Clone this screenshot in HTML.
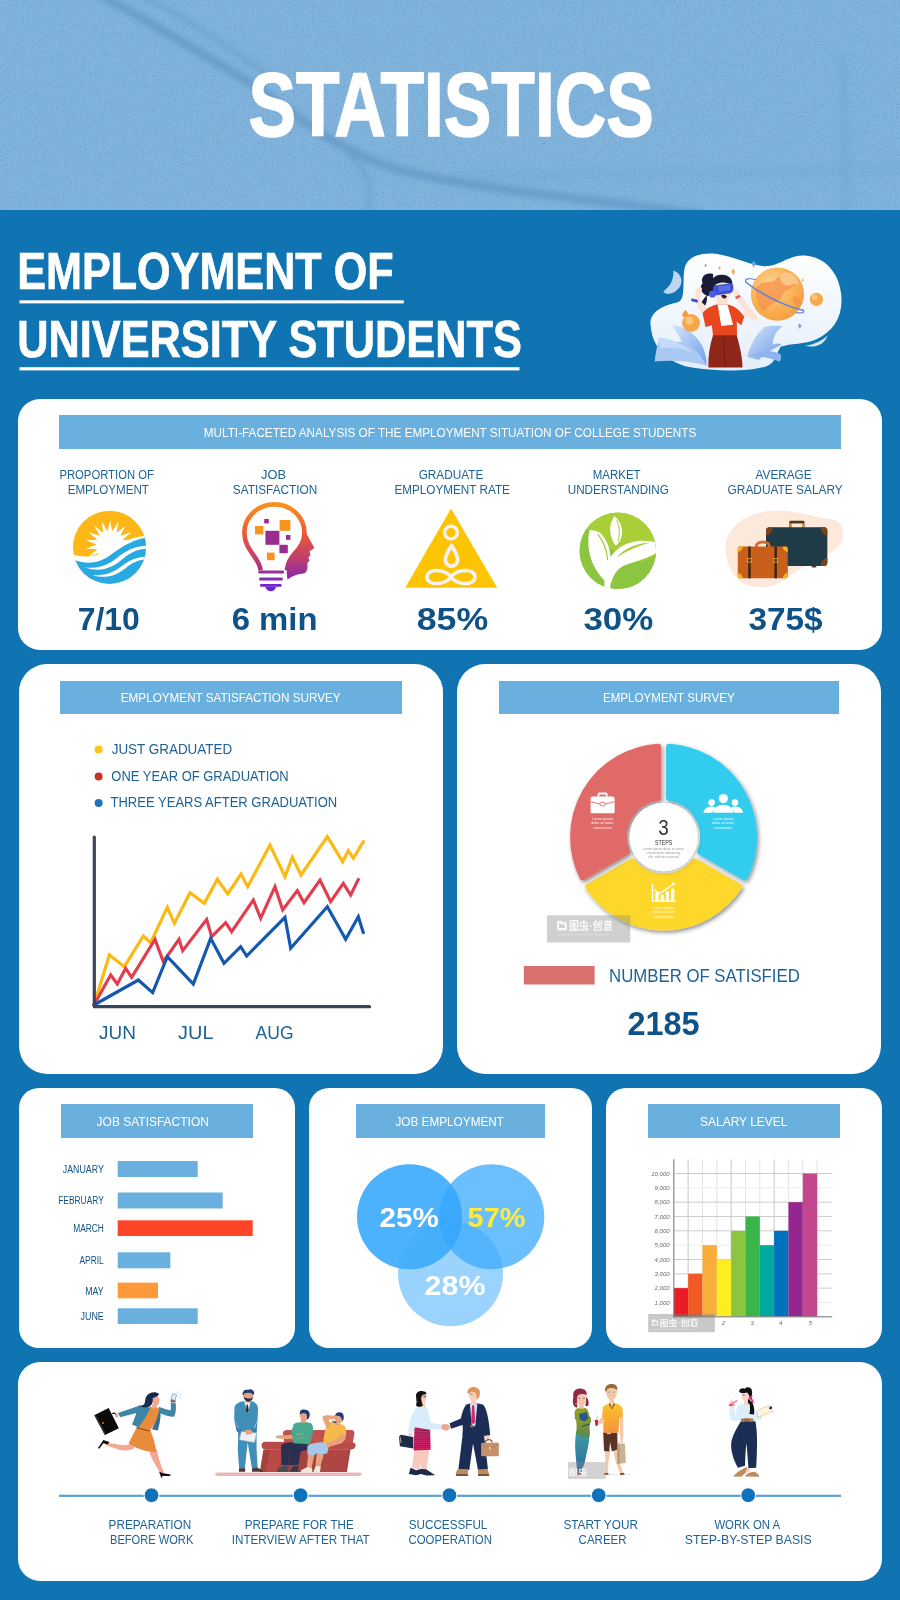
<!DOCTYPE html>
<html lang="en">
<head>
<meta charset="utf-8">
<title>Statistics - Employment of University Students</title>
<style>
html,body{margin:0;padding:0;}
body{width:900px;height:1600px;overflow:hidden;background:#1073b2;font-family:"Liberation Sans",sans-serif;}
#page{position:relative;width:900px;height:1600px;overflow:hidden;background:#1073b2;}
#hero{position:absolute;left:0;top:0;width:900px;height:210px;background:#83b6df;overflow:hidden;}
.card{position:absolute;background:#fff;}
.banner{position:absolute;background:#6ab0de;}
#c1{left:18px;top:399px;width:864px;height:251px;border-radius:22px;}
#c2{left:19px;top:664px;width:424px;height:410px;border-radius:28px;}
#c3{left:457px;top:664px;width:424px;height:410px;border-radius:28px;}
#c4{left:19px;top:1088px;width:276px;height:260px;border-radius:20px;}
#c5{left:309px;top:1088px;width:283px;height:260px;border-radius:20px;}
#c6{left:606px;top:1088px;width:276px;height:260px;border-radius:20px;}
#c7{left:18px;top:1362px;width:864px;height:219px;border-radius:22px;}
svg#art{position:absolute;left:0;top:0;width:900px;height:1600px;}
svg text{font-family:"Liberation Sans",sans-serif;}
.b{font-weight:bold;}
</style>
</head>
<body>
<div id="page">
<div id="hero"></div>
<div class="card" id="c1"><div class="banner" style="left:41px;top:16px;width:782px;height:34px"></div></div>
<div class="card" id="c2"><div class="banner" style="left:41px;top:17px;width:342px;height:33px"></div></div>
<div class="card" id="c3"><div class="banner" style="left:42px;top:17px;width:340px;height:33px"></div></div>
<div class="card" id="c4"><div class="banner" style="left:42px;top:16px;width:192px;height:34px"></div></div>
<div class="card" id="c5"><div class="banner" style="left:47px;top:16px;width:189px;height:34px"></div></div>
<div class="card" id="c6"><div class="banner" style="left:42px;top:16px;width:192px;height:34px"></div></div>
<div class="card" id="c7"></div>
<svg id="art" viewBox="0 0 900 1600" width="900" height="1600">
<g id="herotex">
<defs>
<filter id="noise" x="0" y="0" width="100%" height="100%"><feTurbulence type="fractalNoise" baseFrequency="0.9" numOctaves="2" seed="3" result="n"/><feColorMatrix type="matrix" values="0 0 0 0 0.16  0 0 0 0 0.34  0 0 0 0 0.55  1.2 1.2 1.2 0 -1.66"/></filter>
<filter id="blur5" x="-10%" y="-50%" width="120%" height="200%"><feGaussianBlur stdDeviation="2.6"/></filter>
<clipPath id="heroclip"><rect x="0" y="0" width="900" height="210"/></clipPath>
</defs>
<g clip-path="url(#heroclip)">
<g filter="url(#blur5)" fill="none" stroke="#4f86b8" stroke-linecap="round">
<path d="M98 -6 C150 22 205 55 250 83 C290 108 330 150 400 170 C470 188 560 196 700 214" stroke-width="9" opacity="0.46"/>
<path d="M140 -6 C180 14 230 48 270 76" stroke-width="7" opacity="0.22"/>
<path d="M352 158 C372 176 372 196 366 214" stroke-width="7" opacity="0.22"/>
<path d="M843 60 C846 110 844 160 846 214" stroke-width="9" opacity="0.13"/>
<path d="M450 178 C600 172 760 176 900 168" stroke-width="10" opacity="0.08"/>
</g>
<rect x="0" y="0" width="900" height="210" filter="url(#noise)" opacity="1"/>
</g>
</g>
<g id="texts">
<text x="248.4" y="136.4" font-size="91.5" fill="#ffffff" textLength="405.4" lengthAdjust="spacingAndGlyphs" class="b" stroke="#fff" stroke-width="1.6">STATISTICS</text>
<text x="17.2" y="289.4" font-size="52.5" fill="#ffffff" textLength="376.4" lengthAdjust="spacingAndGlyphs" class="b" stroke="#fff" stroke-width="0.7">EMPLOYMENT OF</text>
<text x="17.2" y="357.3" font-size="52.5" fill="#ffffff" textLength="504.7" lengthAdjust="spacingAndGlyphs" class="b" stroke="#fff" stroke-width="0.7">UNIVERSITY STUDENTS</text>
<rect x="19.5" y="300.3" width="384.3" height="3.1" fill="#fff"/>
<rect x="19.5" y="367.2" width="500" height="3.2" fill="#fff"/>
<text x="203.8" y="437.0" font-size="13" fill="#ffffff" textLength="492.5" lengthAdjust="spacingAndGlyphs">MULTI-FACETED ANALYSIS OF THE EMPLOYMENT SITUATION OF COLLEGE STUDENTS</text>
<text x="59.4" y="479.0" font-size="12" fill="#1d6296" textLength="94.5" lengthAdjust="spacingAndGlyphs">PROPORTION OF</text>
<text x="67.7" y="493.7" font-size="12" fill="#1d6296" textLength="81.2" lengthAdjust="spacingAndGlyphs">EMPLOYMENT</text>
<text x="261.0" y="479.0" font-size="12" fill="#1d6296" textLength="25.0" lengthAdjust="spacingAndGlyphs">JOB</text>
<text x="232.8" y="493.7" font-size="12" fill="#1d6296" textLength="84.5" lengthAdjust="spacingAndGlyphs">SATISFACTION</text>
<text x="418.7" y="479.0" font-size="12" fill="#1d6296" textLength="64.6" lengthAdjust="spacingAndGlyphs">GRADUATE</text>
<text x="394.4" y="493.7" font-size="12" fill="#1d6296" textLength="115.5" lengthAdjust="spacingAndGlyphs">EMPLOYMENT RATE</text>
<text x="592.7" y="479.0" font-size="12" fill="#1d6296" textLength="47.9" lengthAdjust="spacingAndGlyphs">MARKET</text>
<text x="567.7" y="493.7" font-size="12" fill="#1d6296" textLength="101.2" lengthAdjust="spacingAndGlyphs">UNDERSTANDING</text>
<text x="755.6" y="479.0" font-size="12" fill="#1d6296" textLength="56.0" lengthAdjust="spacingAndGlyphs">AVERAGE</text>
<text x="727.6" y="493.7" font-size="12" fill="#1d6296" textLength="115.2" lengthAdjust="spacingAndGlyphs">GRADUATE SALARY</text>
<text x="77.7" y="630.0" font-size="31.5" fill="#0e5287" textLength="62.2" lengthAdjust="spacingAndGlyphs" class="b">7/10</text>
<text x="231.7" y="630.0" font-size="31.5" fill="#0e5287" textLength="85.8" lengthAdjust="spacingAndGlyphs" class="b">6 min</text>
<text x="416.7" y="630.0" font-size="31.5" fill="#0e5287" textLength="71.5" lengthAdjust="spacingAndGlyphs" class="b">85%</text>
<text x="583.4" y="630.0" font-size="31.5" fill="#0e5287" textLength="69.9" lengthAdjust="spacingAndGlyphs" class="b">30%</text>
<text x="748.4" y="630.0" font-size="31.5" fill="#0e5287" textLength="74.2" lengthAdjust="spacingAndGlyphs" class="b">375$</text>
<text x="120.8" y="702.0" font-size="13" fill="#ffffff" textLength="219.8" lengthAdjust="spacingAndGlyphs">EMPLOYMENT SATISFACTION SURVEY</text>
<text x="111.7" y="754.0" font-size="14" fill="#1d6296" textLength="120.5" lengthAdjust="spacingAndGlyphs">JUST GRADUATED</text>
<text x="111.3" y="781.0" font-size="14" fill="#1d6296" textLength="177.4" lengthAdjust="spacingAndGlyphs">ONE YEAR OF GRADUATION</text>
<text x="110.5" y="807.4" font-size="14" fill="#1d6296" textLength="226.7" lengthAdjust="spacingAndGlyphs">THREE YEARS AFTER GRADUATION</text>
<text x="99.0" y="1038.5" font-size="19" fill="#1d6296" textLength="36.9" lengthAdjust="spacingAndGlyphs">JUN</text>
<text x="178.1" y="1038.5" font-size="19" fill="#1d6296" textLength="35.4" lengthAdjust="spacingAndGlyphs">JUL</text>
<text x="255.6" y="1038.5" font-size="19" fill="#1d6296" textLength="37.9" lengthAdjust="spacingAndGlyphs">AUG</text>
<text x="602.9" y="702.0" font-size="13" fill="#ffffff" textLength="131.8" lengthAdjust="spacingAndGlyphs">EMPLOYMENT SURVEY</text>
<text x="609.1" y="981.5" font-size="18" fill="#1d6296" textLength="190.7" lengthAdjust="spacingAndGlyphs">NUMBER OF SATISFIED</text>
<text x="627.4" y="1035.4" font-size="32.5" fill="#0e5287" textLength="72.2" lengthAdjust="spacingAndGlyphs" class="b">2185</text>
<text x="96.6" y="1126.0" font-size="13" fill="#ffffff" textLength="112.3" lengthAdjust="spacingAndGlyphs">JOB SATISFACTION</text>
<text x="62.8" y="1173.0" font-size="10" fill="#0e5287" textLength="41.0" lengthAdjust="spacingAndGlyphs">JANUARY</text>
<text x="58.2" y="1204.0" font-size="10" fill="#0e5287" textLength="45.6" lengthAdjust="spacingAndGlyphs">FEBRUARY</text>
<text x="73.2" y="1231.7" font-size="10" fill="#0e5287" textLength="30.6" lengthAdjust="spacingAndGlyphs">MARCH</text>
<text x="79.5" y="1264.0" font-size="10" fill="#0e5287" textLength="24.3" lengthAdjust="spacingAndGlyphs">APRIL</text>
<text x="85.2" y="1295.0" font-size="10" fill="#0e5287" textLength="18.6" lengthAdjust="spacingAndGlyphs">MAY</text>
<text x="80.5" y="1319.7" font-size="10" fill="#0e5287" textLength="23.3" lengthAdjust="spacingAndGlyphs">JUNE</text>
<text x="395.4" y="1126.0" font-size="13" fill="#ffffff" textLength="108.6" lengthAdjust="spacingAndGlyphs">JOB EMPLOYMENT</text>
<text x="700.1" y="1126.0" font-size="13" fill="#ffffff" textLength="87.3" lengthAdjust="spacingAndGlyphs">SALARY LEVEL</text>
<text x="108.6" y="1528.6" font-size="13" fill="#1d6296" textLength="82.7" lengthAdjust="spacingAndGlyphs">PREPARATION</text>
<text x="110.0" y="1543.7" font-size="13" fill="#1d6296" textLength="83.3" lengthAdjust="spacingAndGlyphs">BEFORE WORK</text>
<text x="244.8" y="1528.6" font-size="13" fill="#1d6296" textLength="108.9" lengthAdjust="spacingAndGlyphs">PREPARE FOR THE</text>
<text x="231.8" y="1543.7" font-size="13" fill="#1d6296" textLength="137.9" lengthAdjust="spacingAndGlyphs">INTERVIEW AFTER THAT</text>
<text x="408.7" y="1528.6" font-size="13" fill="#1d6296" textLength="78.7" lengthAdjust="spacingAndGlyphs">SUCCESSFUL</text>
<text x="408.4" y="1543.7" font-size="13" fill="#1d6296" textLength="83.6" lengthAdjust="spacingAndGlyphs">COOPERATION</text>
<text x="563.4" y="1528.6" font-size="13" fill="#1d6296" textLength="74.6" lengthAdjust="spacingAndGlyphs">START YOUR</text>
<text x="578.6" y="1543.7" font-size="13" fill="#1d6296" textLength="48.0" lengthAdjust="spacingAndGlyphs">CAREER</text>
<text x="714.4" y="1528.6" font-size="13" fill="#1d6296" textLength="65.7" lengthAdjust="spacingAndGlyphs">WORK ON A</text>
<text x="684.8" y="1543.7" font-size="13" fill="#1d6296" textLength="126.9" lengthAdjust="spacingAndGlyphs">STEP-BY-STEP BASIS</text>
</g>
<g id="timeline">
<rect x="59" y="1494.7" width="782" height="2.2" fill="#5b9fd6"/>
<g fill="#1072b8" stroke="#fff" stroke-width="1">
<circle cx="151.5" cy="1495.2" r="7.4"/><circle cx="300.6" cy="1495.2" r="7.4"/><circle cx="449.4" cy="1495.2" r="7.4"/><circle cx="598.7" cy="1495.2" r="7.4"/><circle cx="748.2" cy="1495.2" r="7.4"/>
</g>
</g>
<g id="linechart">
<g fill="none" stroke-width="3" stroke-linejoin="miter" stroke-linecap="round" transform="translate(80,820) scale(0.33333)">
<polyline stroke="#fdb913" stroke-width="9.5" points="42,555 88,405 133,440 190,348 212,368 262,262 283,310 330,218 373,250 412,178 443,222 483,162 503,200 570,75 615,170 637,112 663,165 742,50 788,125 805,92 820,115 850,65"/>
<polyline stroke="#e23d4f" stroke-width="9.5" points="42,555 92,465 112,492 137,445 155,472 225,358 250,425 297,358 308,392 380,298 395,350 437,308 455,335 520,240 542,295 585,200 608,270 652,212 672,248 720,180 752,245 790,190 812,225 835,178"/>
<polyline stroke="#1558b0" stroke-width="9.5" points="42,555 175,480 218,518 262,410 340,492 392,355 432,430 482,380 500,408 615,292 632,385 742,260 797,358 835,290 850,338"/>
</g>
<path d="M94.3 837 V1006.7 H369.5" fill="none" stroke="#3a4558" stroke-width="3.2" stroke-linecap="round" stroke-linejoin="round"/>
<circle cx="98.6" cy="749.5" r="4" fill="#fdc31b"/><circle cx="98.6" cy="776.5" r="4" fill="#c8321e"/><circle cx="98.6" cy="803" r="4" fill="#1a75bc"/>
</g>
<g id="bars">
<rect x="117.7" y="1161" width="80" height="16" fill="#6ab0de"/>
<rect x="117.7" y="1192.5" width="105" height="16" fill="#6ab0de"/>
<rect x="117.7" y="1220.3" width="135" height="15.7" fill="#ff4527"/>
<rect x="117.7" y="1252.3" width="52.6" height="16" fill="#6ab0de"/>
<rect x="117.7" y="1282.6" width="40.3" height="15.7" fill="#ff9a3c"/>
<rect x="117.7" y="1308.3" width="80" height="15.7" fill="#6ab0de"/>
</g>
<g id="venn">
<defs>
<clipPath id="cv1"><circle cx="409.5" cy="1216.7" r="52.5"/></clipPath>
<clipPath id="cv2"><circle cx="491.8" cy="1216.7" r="52.5"/></clipPath>
</defs>
<circle cx="450.5" cy="1273.7" r="52.5" fill="#9ad4fe"/>
<circle cx="491.8" cy="1216.7" r="52.5" fill="#6bbffd"/>
<circle cx="409.5" cy="1216.7" r="52.5" fill="#4db2fd"/>
<circle cx="450.5" cy="1273.7" r="52.5" fill="#52b5fd" clip-path="url(#cv2)"/>
<circle cx="450.5" cy="1273.7" r="52.5" fill="#45affc" clip-path="url(#cv1)"/>
<circle cx="491.8" cy="1216.7" r="52.5" fill="#3baafc" clip-path="url(#cv1)"/>
<g clip-path="url(#cv1)"><circle cx="450.5" cy="1273.7" r="52.5" fill="#38a9fc" clip-path="url(#cv2)"/></g>
<text class="b" x="379.6" y="1226.7" font-size="28" fill="#fff" textLength="59.1" lengthAdjust="spacingAndGlyphs">25%</text>
<text class="b" x="467.6" y="1226.7" font-size="28" fill="#ffeb3b" textLength="57.8" lengthAdjust="spacingAndGlyphs">57%</text>
<text class="b" x="424.6" y="1295" font-size="28" fill="#fff" textLength="60.8" lengthAdjust="spacingAndGlyphs">28%</text>
</g>
<g id="satisfied"><rect x="523.8" y="966" width="70.8" height="18.5" fill="#d97070"/></g>
<g id="salary">
<rect x="687.63" y="1159.3" width="1" height="157.5" fill="#c6c6c6"/>
<rect x="701.96" y="1159.3" width="1" height="157.5" fill="#e4e4e4"/>
<rect x="716.29" y="1159.3" width="1" height="157.5" fill="#e4e4e4"/>
<rect x="730.62" y="1159.3" width="1" height="157.5" fill="#c6c6c6"/>
<rect x="744.95" y="1159.3" width="1" height="157.5" fill="#e4e4e4"/>
<rect x="759.28" y="1159.3" width="1" height="157.5" fill="#e4e4e4"/>
<rect x="773.61" y="1159.3" width="1" height="157.5" fill="#c6c6c6"/>
<rect x="787.94" y="1159.3" width="1" height="157.5" fill="#e4e4e4"/>
<rect x="802.27" y="1159.3" width="1" height="157.5" fill="#e4e4e4"/>
<rect x="816.60" y="1159.3" width="1" height="157.5" fill="#e4e4e4"/>
<rect x="673.8" y="1301.97" width="158.4" height="1" fill="#ececec"/>
<rect x="673.8" y="1287.64" width="158.4" height="1" fill="#cdcdcd"/>
<rect x="673.8" y="1273.31" width="158.4" height="1" fill="#cdcdcd"/>
<rect x="673.8" y="1258.98" width="158.4" height="1" fill="#cdcdcd"/>
<rect x="673.8" y="1244.65" width="158.4" height="1" fill="#ececec"/>
<rect x="673.8" y="1230.32" width="158.4" height="1" fill="#cdcdcd"/>
<rect x="673.8" y="1215.99" width="158.4" height="1" fill="#cdcdcd"/>
<rect x="673.8" y="1201.66" width="158.4" height="1" fill="#cdcdcd"/>
<rect x="673.8" y="1187.33" width="158.4" height="1" fill="#ececec"/>
<rect x="673.8" y="1173.00" width="158.4" height="1" fill="#cdcdcd"/>
<rect x="673.80" y="1288.14" width="14.38" height="28.66" fill="#ec1c24"/>
<rect x="688.13" y="1273.81" width="14.38" height="42.99" fill="#f15a24"/>
<rect x="702.46" y="1245.15" width="14.38" height="71.65" fill="#f9ae3b"/>
<rect x="716.79" y="1259.48" width="14.38" height="57.32" fill="#fcee21"/>
<rect x="731.12" y="1230.82" width="14.38" height="85.98" fill="#8cc63f"/>
<rect x="745.45" y="1216.49" width="14.38" height="100.31" fill="#39b54a"/>
<rect x="759.78" y="1245.15" width="14.38" height="71.65" fill="#00a99d"/>
<rect x="774.11" y="1230.82" width="14.38" height="85.98" fill="#0071bc"/>
<rect x="788.44" y="1202.16" width="14.38" height="114.64" fill="#93278f"/>
<rect x="802.77" y="1173.50" width="14.38" height="143.30" fill="#c2478f"/>
<rect x="673.2" y="1159.3" width="1.2" height="158.1" fill="#8a8a8a"/>
<rect x="673.2" y="1316.2" width="159.0" height="1.2" fill="#8a8a8a"/>
<text x="669.6" y="1304.6" font-size="6" font-style="italic" fill="#6a6a6a" text-anchor="end">1,000</text>
<text x="669.6" y="1290.2" font-size="6" font-style="italic" fill="#6a6a6a" text-anchor="end">2,000</text>
<text x="669.6" y="1275.9" font-size="6" font-style="italic" fill="#6a6a6a" text-anchor="end">3,000</text>
<text x="669.6" y="1261.6" font-size="6" font-style="italic" fill="#6a6a6a" text-anchor="end">4,000</text>
<text x="669.6" y="1247.2" font-size="6" font-style="italic" fill="#6a6a6a" text-anchor="end">5,000</text>
<text x="669.6" y="1232.9" font-size="6" font-style="italic" fill="#6a6a6a" text-anchor="end">6,000</text>
<text x="669.6" y="1218.6" font-size="6" font-style="italic" fill="#6a6a6a" text-anchor="end">7,000</text>
<text x="669.6" y="1204.3" font-size="6" font-style="italic" fill="#6a6a6a" text-anchor="end">8,000</text>
<text x="669.6" y="1189.9" font-size="6" font-style="italic" fill="#6a6a6a" text-anchor="end">9,000</text>
<text x="669.6" y="1175.6" font-size="6" font-style="italic" fill="#6a6a6a" text-anchor="end">10,000</text>
<text x="694.5" y="1325.3" font-size="6" font-style="italic" fill="#6a6a6a" text-anchor="middle">1</text>
<text x="723.3" y="1325.3" font-size="6" font-style="italic" fill="#6a6a6a" text-anchor="middle">2</text>
<text x="752.2" y="1325.3" font-size="6" font-style="italic" fill="#6a6a6a" text-anchor="middle">3</text>
<text x="780.7" y="1325.3" font-size="6" font-style="italic" fill="#6a6a6a" text-anchor="middle">4</text>
<text x="810.4" y="1325.3" font-size="6" font-style="italic" fill="#6a6a6a" text-anchor="middle">5</text>
<rect x="648.2" y="1314" width="66.7" height="18.2" fill="#7d7d7d" fill-opacity="0.42"/>
<path d="M651.8 1319.6h3.2l1 1h2.2v5.2h-6.4z M653.2 1321.2v3.2h3.6v-2.4h-2z" fill="#fff" fill-opacity="0.8" fill-rule="evenodd"/>
<text x="659.5" y="1326.3" font-size="8.2" font-weight="bold" fill="#fff" fill-opacity="0.85" style="font-family:'Liberation Sans','Noto Sans CJK SC',sans-serif" textLength="39" lengthAdjust="spacingAndGlyphs">图虫·创意</text>
<rect x="651.8" y="1329.3" width="42" height="0.7" fill="#fff" fill-opacity="0.35"/>
</g>
<g id="pie">
<defs><filter id="psh" x="-20%" y="-20%" width="140%" height="140%"><feDropShadow dx="1.6" dy="2.0" stdDeviation="2.0" flood-color="#000" flood-opacity="0.45"/></filter><filter id="psh2" x="-30%" y="-30%" width="160%" height="160%"><feDropShadow dx="0.5" dy="1" stdDeviation="2" flood-color="#000" flood-opacity="0.35"/></filter></defs>
<path d="M588.12 886.93 A90.50 90.50 0 0 0 739.08 886.93 L694.72 861.32 A39.50 39.50 0 0 1 632.48 861.32 Z" fill="#fdd72c" stroke="#fdd72c" stroke-width="6.0" stroke-linejoin="round" filter="url(#psh)"/>
<path d="M744.58 877.40 A90.50 90.50 0 0 0 669.10 746.67 L669.10 797.88 A39.50 39.50 0 0 1 700.22 851.79 Z" fill="#33ccee" stroke="#33ccee" stroke-width="6.0" stroke-linejoin="round" filter="url(#psh)"/>
<path d="M658.10 746.67 A90.50 90.50 0 0 0 582.62 877.40 L626.98 851.79 A39.50 39.50 0 0 1 658.10 797.88 Z" fill="#df6a68" stroke="#df6a68" stroke-width="6.0" stroke-linejoin="round" filter="url(#psh)"/>
<circle cx="663.6" cy="837.0" r="34.2" fill="#fff" filter="url(#psh2)"/>
<text x="663.6" y="835.2" font-size="21.5" fill="#333" text-anchor="middle" style="font-weight:normal" textLength="10.5" lengthAdjust="spacingAndGlyphs">3</text>
<text x="655.0" y="845.3" font-size="7.6" fill="#333" textLength="17.4" lengthAdjust="spacingAndGlyphs">STEPS</text>
<text x="663.6" y="849.7" font-size="3.4" fill="#9a9a9a" text-anchor="middle">Lorem ipsum dolor sit amet,</text>
<text x="663.6" y="853.8" font-size="3.4" fill="#9a9a9a" text-anchor="middle">consectetur adipiscing</text>
<text x="663.6" y="857.9" font-size="3.4" fill="#9a9a9a" text-anchor="middle">elit, sed do eiusmod</text>
<text x="602.6" y="820.0" font-size="3.6" fill="#fff" fill-opacity="0.92" text-anchor="middle">Lorem ipsum</text>
<text x="602.6" y="824.3" font-size="3.6" fill="#fff" fill-opacity="0.92" text-anchor="middle">dolor sit amet,</text>
<text x="602.6" y="828.6" font-size="3.6" fill="#fff" fill-opacity="0.92" text-anchor="middle">consectetur</text>
<text x="723.2" y="820.0" font-size="3.6" fill="#fff" fill-opacity="0.92" text-anchor="middle">Lorem ipsum</text>
<text x="723.2" y="824.3" font-size="3.6" fill="#fff" fill-opacity="0.92" text-anchor="middle">dolor sit amet,</text>
<text x="723.2" y="828.6" font-size="3.6" fill="#fff" fill-opacity="0.92" text-anchor="middle">consectetur</text>
<text x="663.8" y="909.0" font-size="3.6" fill="#fff" fill-opacity="0.92" text-anchor="middle">Lorem ipsum</text>
<text x="663.8" y="913.3" font-size="3.6" fill="#fff" fill-opacity="0.92" text-anchor="middle">dolor sit amet,</text>
<text x="663.8" y="917.6" font-size="3.6" fill="#fff" fill-opacity="0.92" text-anchor="middle">consectetur</text>
<g fill="#fff"><path d="M590.6 798.6h24v13.4a1.2 1.2 0 0 1-1.2 1.2h-21.6a1.2 1.2 0 0 1-1.2-1.2z M590.6 798.6a2 2 0 0 1 2-2h20a2 2 0 0 1 2 2v3.2l-12 3-12-3z"/><path d="M597.6 796.8v-2.6a1.6 1.6 0 0 1 1.6-1.6h6.8a1.6 1.6 0 0 1 1.6 1.6v2.6h-1.8v-2.2h-6.4v2.2z"/></g><path d="M590.6 801.6l12 3.2 12-3.2" fill="none" stroke="#df6a68" stroke-width="0.9"/><rect x="600.2" y="802.6" width="4.8" height="3.2" rx="0.6" fill="#fff" stroke="#df6a68" stroke-width="0.8"/>
<g fill="#fff"><circle cx="723.3" cy="798.6" r="4.6"/><circle cx="711.6" cy="802.6" r="3.3"/><circle cx="735" cy="802.6" r="3.3"/><path d="M703.4 812.8c0.8-4.2 4-6.2 8.2-6.2c2 0 3.6 0.6 4.8 1.6c-2.2 1.2-3.6 3-4.2 4.6z"/><path d="M743.2 812.8c-0.8-4.2-4-6.2-8.2-6.2c-2 0-3.6 0.6-4.8 1.6c2.2 1.2 3.6 3 4.2 4.600z"/><path d="M713.2 812.8c1-5.2 4.800-8 10.100-8s9.100 2.800 10.100 8z"/></g>
<g fill="#fff"><rect x="651.8" y="883.8" width="1.4" height="18"/><rect x="651.800" y="900.400" width="24" height="1.400"/><rect x="655.400" y="892.200" width="3.200" height="8.200"/><rect x="660.600" y="894.600" width="3.200" height="5.800"/><rect x="665.800" y="891.600" width="3.200" height="8.800"/><rect x="671" y="888.600" width="3.200" height="11.800"/><path d="M654.200 889.200l5.200 3.400l5-3l8-5.400l-0.800-1.200l3.800-0.400l-1.400 3.600l-0.800-1.100l-8.400 5.800l-5.300 3l-5.800-3.700z"/></g>
<rect x="547" y="915.3" width="83.300" height="27.200" fill="#8a8a8a" fill-opacity="0.40"/>
<path d="M557 920.800h5l1.500 1.500h3.300v8h-9.800z M559 923.200v4.800h5.700v-3.600h-3z" fill="#fff" fill-opacity="0.85" fill-rule="evenodd"/>
<text x="569" y="929.800" font-size="11" font-weight="bold" fill="#fff" fill-opacity="0.88" style="font-family:'Liberation Sans','Noto Sans CJK SC',sans-serif" textLength="43.800" lengthAdjust="spacingAndGlyphs">图虫·创意</text>
<rect x="557" y="934.300" width="52" height="0.800" fill="#fff" fill-opacity="0.35"/>
</g>
<g id="ic1" transform="translate(40,490) scale(0.2)">
<defs><clipPath id="ic1c"><circle cx="347.5" cy="286.5" r="183"/></clipPath></defs>
<g clip-path="url(#ic1c)">
<rect x="150" y="90" width="400" height="400" fill="#fdb716"/>
<polygon points="350.0,150.0 361.5,207.0 391.7,157.4 383.0,214.8 428.4,178.5 400.6,229.6 455.7,211.0 412.0,249.4 470.1,250.8 416.0,272.0 470.1,293.2 412.0,294.6 455.7,333.0 400.6,314.4 428.4,365.5 383.0,329.2 391.7,386.6 361.5,337.0 350.0,394.0 338.5,337.0 308.3,386.6 317.0,329.2 271.6,365.5 299.4,314.4 244.3,333.0 288.0,294.6 229.9,293.2 284.0,272.0 229.9,250.8 288.0,249.4 244.3,211.0 299.4,229.6 271.6,178.5 317.0,214.8 308.3,157.4 338.5,207.0" fill="#fff"/>
<circle cx="350" cy="272" r="70" fill="#fff"/>
<path d="M150 318 C215 338 268 338 312 312 C372 276 432 238 545 226 V500 H150Z" fill="#fff"/>
<path d="M150 340 C225 378 292 366 342 333 C402 290 452 250 545 236 V500 H150Z" fill="#29a9e1"/>
<path d="M222 386 C300 398 350 370 400 328 C450 290 490 280 532 280 L532 294 C490 296 452 310 410 348 C358 392 300 414 222 386Z" fill="#fff"/>
<path d="M262 426 C330 430 372 410 418 374 C460 344 490 336 526 334 L524 348 C490 352 464 362 426 392 C378 428 330 446 262 426Z" fill="#fff"/>
</g></g>
<g id="ic2" transform="translate(200,490) scale(0.2)">
<defs><linearGradient id="ic2g" gradientUnits="userSpaceOnUse" x1="0" y1="60" x2="0" y2="500"><stop offset="0" stop-color="#f7941d"/><stop offset="0.35" stop-color="#ee5a36"/><stop offset="0.62" stop-color="#c2406a"/><stop offset="0.85" stop-color="#8e2aa6"/><stop offset="1" stop-color="#6a1fe0"/></linearGradient></defs>
<path d="M303 402 C300 340 222 300 222 215 C222 135 288 72 372 72 C456 72 522 135 522 215 C522 262 498 292 470 322 C448 346 438 372 434 402" fill="none" stroke="url(#ic2g)" stroke-width="23" stroke-linecap="butt"/>
<path d="M520 196 L572 290 L548 306 L552 326 L542 338 L548 352 L536 366 C540 392 536 410 520 418 C490 420 462 428 438 448 C428 400 436 360 470 326 C500 296 522 262 520 196Z" fill="url(#ic2g)"/>
<g fill="url(#ic2g)"><rect x="292" y="402" width="128" height="16" rx="6"/><rect x="296" y="438" width="118" height="15" rx="6"/><rect x="300" y="470" width="108" height="14" rx="6"/><path d="M326 484 H382 C376 500 364 506 354 506 C344 506 332 500 326 484Z"/></g>
<g fill="#f7941d"><rect x="275" y="180" width="42" height="42"/><rect x="398" y="150" width="54" height="54"/><rect x="335" y="313" width="38" height="38"/></g>
<g fill="#9b2c8f"><rect x="327" y="204" width="70" height="70"/><rect x="397" y="274" width="42" height="42"/><rect x="321" y="145" width="23" height="22"/><rect x="430" y="225" width="22" height="24"/></g>
</g>
<g id="ic3">
<polygon points="451,508.6 497.2,587.8 405.2,587.8" fill="#fcc403"/>
<circle cx="451" cy="532.6" r="6.4" fill="none" stroke="#f6f1f1" stroke-width="3.4"/>
<path d="M451.5 545.6 C456 552.5 457.6 556.6 457.6 560 A6.1 6.1 0 0 1 445.4 560 C445.400 556.600 447 552.500 451.500 545.600Z" fill="none" stroke="#f6f1f1" stroke-width="3.8" stroke-linejoin="round"/>
<path d="M451 577 C445 568.500 427 568 427 577 C427 586 445 585.500 451 577 C457 568.500 475 568 475 577 C475 586 457 585.500 451 577Z" fill="none" stroke="#f6f1f1" stroke-width="3.6"/>
</g>
<g id="ic4" transform="translate(540,490) scale(0.2)">
<defs><clipPath id="ic4c"><circle cx="388.5" cy="304" r="191.500"/></clipPath></defs>
<g clip-path="url(#ic4c)">
<rect x="190" y="105" width="400" height="400" fill="#8cc540"/>
<path d="M236 190 C300 100 470 70 570 190 L610 260 L610 360 C540 380 470 350 400 320 C340 290 280 250 236 190Z" fill="#a8cf38"/>
<path d="M248 200 C236 250 240 320 270 380 C290 420 312 440 322 452 L322 486 L352 492 C352 440 360 400 378 372 L352 330 C350 290 330 240 300 214 C284 204 266 200 248 200Z" fill="#fff"/>
<path d="M290 222 C318 258 334 300 338 348" fill="none" stroke="#9fcb3a" stroke-width="6" stroke-linecap="round"/>
<path d="M372 130 C344 170 342 226 376 276 L386 274 C422 232 420 170 372 130Z" fill="#fff"/>
<path d="M384 152 C400 190 400 226 390 256" fill="none" stroke="#a8cf38" stroke-width="5" stroke-linecap="round"/>
<path d="M352 338 C372 300 420 266 480 256 C520 250 556 256 580 262 L582 314 C540 342 480 356 430 374 C390 390 366 420 356 470 L340 440 C338 400 342 366 352 338Z" fill="#fff"/>
<path d="M384 338 C410 300 480 264 552 264 C500 276 440 300 384 338Z" fill="#a8cf38"/>
<path d="M356 482 C356 440 380 408 424 390 C484 368 544 352 584 318 C600 430 480 530 352 498Z" fill="#8cc540"/>
</g></g>
<g id="ic5" transform="translate(690,455) scale(0.22222)">
<path d="M160 430 C150 340 240 255 380 250 C470 248 560 280 640 290 C700 300 705 380 660 420 C600 470 500 500 440 550 C390 590 330 605 270 590 C200 570 165 500 160 430Z" fill="#fde8dc"/>
<rect x="447" y="296" width="68" height="34" rx="6" fill="#5a3413"/><rect x="456" y="308" width="50" height="24" fill="#fde8dc"/><rect x="449" y="308" width="8" height="20" fill="#e0992f"/><rect x="505" y="308" width="8" height="20" fill="#e0992f"/>
<rect x="342" y="325" width="276" height="175" rx="16" fill="#1f3b47"/>
<path d="M342 341 a16 16 0 0 1 16 -16 h14 c0 20 -12 34 -30 36z M618 341 a16 16 0 0 0 -16 -16 h-14 c0 20 12 34 30 36z M618 484 a16 16 0 0 1 -16 16 h-14 c0 -20 12 -34 30 -36z" fill="#7a4419"/>
<rect x="548" y="498" width="20" height="8" fill="#5a3413"/>
<path d="M292 414 C292 392 310 386 328 386 C346 386 364 392 364 414 L352 414 C352 402 342 398 328 398 C314 398 304 402 304 414Z" fill="#d4692a"/>
<rect x="215" y="412" width="225" height="143" rx="10" fill="#c8601c"/>
<rect x="262" y="412" width="11" height="143" fill="#3a2416"/><rect x="380" y="412" width="11" height="143" fill="#3a2416"/>
<rect x="259" y="466" width="17" height="16" fill="none" stroke="#e9a52a" stroke-width="4"/><rect x="377" y="466" width="17" height="16" fill="none" stroke="#e9a52a" stroke-width="4"/>
<path d="M215 422 a10 10 0 0 1 10 -10 h12 c0 14 -8 22 -22 24z M440 422 a10 10 0 0 0 -10 -10 h-12 c0 14 8 22 22 24z M215 545 a10 10 0 0 0 10 10 h12 c0 -14 -8 -22 -22 -24z M440 545 a10 10 0 0 1 -10 10 h-12 c0 -14 8 -22 22 -24z" fill="#f5b21b"/>
</g>
<g id="heroart" transform="translate(620,230) scale(0.28889)">
<defs>
<linearGradient id="hbl" x1="0" y1="0" x2="0" y2="1"><stop offset="0" stop-color="#ffffff"/><stop offset="1" stop-color="#e3eefb"/></linearGradient>
<radialGradient id="hpl" cx="0.4" cy="0.35" r="0.75"><stop offset="0" stop-color="#fdd79a"/><stop offset="0.55" stop-color="#f9b255"/><stop offset="1" stop-color="#f39a3c"/></radialGradient>
<linearGradient id="hlf" x1="0" y1="0" x2="1" y2="1"><stop offset="0" stop-color="#d4e4fb"/><stop offset="1" stop-color="#6f9fe8"/></linearGradient>
</defs>
<!-- side leaves behind -->
<path d="M185 140 C215 150 222 185 200 205 C185 222 160 226 150 215 C160 200 186 190 185 140Z" fill="#bcd7f6"/>
<path d="M640 400 C670 398 705 380 718 365 C712 392 676 412 640 400Z" fill="#d7e7fb"/>
<!-- blob -->
<path d="M106 330 C100 290 140 262 200 250 C230 240 214 180 224 130 C236 84 300 74 350 86 C420 100 470 132 520 124 C560 116 590 86 640 88 C710 92 760 150 766 226 C772 300 740 350 680 378 C640 396 590 392 556 404 C540 430 540 462 500 474 C440 490 340 490 260 478 C180 468 112 420 106 330Z" fill="url(#hbl)"/>
<!-- plants left -->
<path d="M120 455 C124 420 130 392 138 376 C160 384 200 392 230 384 C262 400 290 430 300 470 C240 452 180 450 120 455Z" fill="#a9c9f3"/>
<path d="M180 330 C220 330 262 360 284 400 C296 424 300 448 300 470 C280 430 250 400 212 384 C204 366 192 346 180 330Z" fill="url(#hlf)"/>
<path d="M132 372 C170 374 220 392 258 428 C226 412 180 404 140 410Z" fill="#c4dafa"/>
<!-- plants right -->
<path d="M440 440 C450 400 470 360 500 336 C520 330 548 330 562 334 C540 350 530 372 528 396 C540 392 552 392 560 396 C530 410 500 430 480 450Z" fill="url(#hlf)"/>
<path d="M448 436 C470 420 520 410 556 430 C560 440 556 452 552 456 C520 440 480 438 448 436Z" fill="#8fb4ee"/>
<!-- planet -->
<circle cx="545" cy="222" r="92" fill="url(#hpl)"/>
<path d="M470 200 C500 170 520 190 540 170 C560 150 600 150 610 180 C600 210 570 200 560 230 C550 256 520 250 500 280 C480 270 470 240 470 200Z" fill="#f6924a" opacity="0.75"/>
<path d="M560 150 C590 140 612 160 620 190 C600 180 590 200 570 190 C556 184 548 164 560 150Z" fill="#fbc98f" opacity="0.9"/>
<path d="M600 230 C624 224 632 250 620 270 C604 262 596 246 600 230Z" fill="#f6924a" opacity="0.8"/>
<path d="M436 180 C470 210 560 262 634 278" fill="none" stroke="#5c7fe6" stroke-width="5" stroke-linecap="round"/>
<path d="M436 180 C428 168 450 166 470 172" fill="none" stroke="#5c7fe6" stroke-width="4" stroke-linecap="round"/>
<path d="M634 278 C642 284 630 290 612 286" fill="none" stroke="#5c7fe6" stroke-width="4" stroke-linecap="round"/>
<circle cx="680" cy="240" r="23" fill="#f7a649"/><circle cx="674" cy="233" r="10" fill="#fbc57d"/>
<!-- left small planet -->
<path d="M216 300 C214 288 222 282 228 276 C232 286 240 290 238 302Z" fill="#f59a3e"/>
<circle cx="246" cy="322" r="31" fill="#f7a649"/><circle cx="240" cy="314" r="14" fill="#fbc57d"/>
<!-- sparkles -->
<path d="M392 132 l6 12 l-6 12 l-6 -12z M345 124 l4 7 l-4 7 l-4 -7z M632 168 l4 6 l-4 6 l-4 -6z" fill="#f6a545"/>
<path d="M463 106 l7 12 l-7 12 l-7 -12z M622 322 l6 10 l-6 10 l-6 -10z M296 116 l4 7 l-4 7 l-4 -7z" fill="#7ea0ea"/>
<!-- girl -->
<!-- ponytail -->
<path d="M322 152 C296 146 278 162 286 184 C270 200 286 222 300 226 C282 246 270 268 280 278 C296 268 304 244 300 230 C318 226 326 200 322 152Z" fill="#1b1b38"/>
<!-- arms -->
<path d="M286 292 C268 270 256 240 262 214 C266 196 282 192 284 204 L276 236 C282 252 300 268 318 280Z" fill="#fbe3d6"/>
<path d="M412 290 C436 300 462 312 478 318 C484 310 470 290 450 270 C436 250 420 230 410 216 C404 200 392 196 388 210 C396 230 420 262 432 286Z" fill="#fbe3d6"/>
<!-- neck + face -->
<path d="M336 240 L372 240 L376 272 L330 272Z" fill="#fbe3d6"/>
<path d="M324 196 C324 176 342 166 360 168 C380 170 390 186 386 210 C384 236 368 250 350 248 C334 246 324 226 324 196Z" fill="#fbe3d6"/>
<path d="M350 226 C356 222 366 224 370 230 C366 240 354 240 350 226Z" fill="#3a1a20"/>
<!-- hair top -->
<path d="M316 196 C310 168 334 150 362 156 C382 160 392 176 388 190 C372 180 350 178 332 188 C326 196 322 210 322 222 C318 214 316 206 316 196Z" fill="#1b1b38"/>
<!-- vr headset -->
<path d="M328 192 L384 184 C392 184 394 196 392 206 C390 216 384 220 376 220 L334 226 C326 226 322 216 322 206 C322 198 324 194 328 192Z" fill="#3e50d6"/>
<path d="M340 196 L380 190 L382 208 L342 214Z" fill="#6b7cf0" opacity="0.7"/>
<circle cx="320" cy="222" r="12" fill="#4a5fe2"/>
<!-- wristbands -->
<path d="M248 236 L270 242 L268 252 L246 246Z" fill="#3e50d6"/>
<path d="M398 232 L414 224 L418 232 L402 240Z" fill="#e85a6a"/>
<!-- shirt -->
<path d="M286 288 C300 270 322 260 338 258 L372 258 C392 260 414 276 430 300 L420 330 L404 318 L404 366 L322 366 L318 330 L296 336 Z" fill="#e8461f"/>
<path d="M338 258 L372 258 L392 330 L352 340 Z" fill="#ffffff"/>
<path d="M322 336 L404 326 L404 366 L322 366Z" fill="#e8461f"/>
<!-- skirt -->
<path d="M322 364 L404 364 C414 400 424 440 424 476 L306 476 C304 440 310 400 322 364Z" fill="#8f2618"/>
<path d="M362 372 C360 410 362 440 366 474" fill="none" stroke="#6e1a10" stroke-width="3"/>
</g>
<g id="p1" transform="translate(80,1375) scale(0.15556)">
<!-- briefcase -->
<polygon points="92,258 184,212 250,342 160,386" fill="#0a0a0a"/>
<polygon points="92,258 100,254 168,382 160,386" fill="#3a3a3a"/>
<circle cx="148" cy="308" r="6" fill="#e8862e"/>
<path d="M206 250 C222 238 238 250 234 270" fill="none" stroke="#111" stroke-width="7"/>
<!-- back leg -->
<path d="M330 440 C300 452 260 452 226 444 L170 436 L166 452 L230 472 C270 490 320 492 350 470Z" fill="#f6a693"/>
<path d="M150 418 L190 430 L176 446 L150 438 L124 474 L116 470 Z" fill="#111"/>
<!-- front leg -->
<path d="M440 480 L496 480 C500 530 520 580 540 626 L520 632 C490 590 460 540 440 480Z" fill="#f6a693"/>
<path d="M508 620 C530 632 560 636 582 640 L580 650 L530 650 L524 664 L518 650Z" fill="#111"/>
<!-- back arm (left, holding case) -->
<path d="M244 244 L380 198 L400 234 L258 272Z" fill="#3f86a6"/>
<circle cx="236" cy="262" r="11" fill="#f6a693"/>
<!-- dress -->
<path d="M446 206 C480 196 510 206 516 236 C512 280 480 320 452 352 C470 400 486 450 490 492 C430 500 360 470 312 440 C330 400 350 370 364 338 C390 300 420 250 446 206Z" fill="#e88b3b"/>
<path d="M364 338 L446 360" stroke="#7a2e1a" stroke-width="5" fill="none"/>
<!-- jacket -->
<path d="M372 200 C400 196 430 200 452 212 C430 260 400 310 376 336 L334 318 C352 280 366 240 372 200Z" fill="#3f86a6"/>
<path d="M510 206 C524 230 520 290 500 356 L462 348 C486 310 506 260 510 206Z" fill="#356f94"/>
<!-- front arm -->
<path d="M508 204 C540 216 570 226 584 226 L584 176 L614 176 C620 210 616 250 604 268 C570 268 536 256 510 244Z" fill="#3f86a6"/>
<path d="M584 150 L612 150 L614 176 L584 176Z" fill="#f6a693"/>
<rect x="582" y="164" width="32" height="7" fill="#1b2f55"/>
<!-- phone -->
<path d="M596 120 L622 128 L608 164 L584 156Z" fill="#e9eef6" stroke="#5b7fb5" stroke-width="4"/>
<path d="M624 118 L636 102 M634 128 L650 122 M632 142 L650 144" stroke="#8fb7d8" stroke-width="3" fill="none"/>
<!-- neck/face -->
<path d="M462 190 L492 186 L496 214 L466 216Z" fill="#f6a693"/>
<path d="M470 150 C476 134 500 132 508 146 C512 160 510 184 498 194 C484 200 468 190 466 172Z" fill="#f6a693"/>
<!-- hair -->
<path d="M508 122 C490 104 450 108 432 130 C414 150 424 176 410 190 C400 200 384 198 376 192 C390 210 420 212 444 204 C464 196 470 170 468 150 C480 140 500 140 508 122Z" fill="#14284a"/>
<path d="M432 150 C440 170 440 190 420 204" fill="none" stroke="#2c4a7a" stroke-width="4"/>
</g>
<g id="p2" transform="translate(210,1375) scale(0.17778)">
<rect x="30" y="548" width="822" height="20" rx="10" fill="#e9b8bc"/>
<!-- sofa -->
<path d="M410 330 C410 316 420 310 434 310 L792 310 C806 310 814 318 812 332 L800 400 L420 400Z" fill="#c2524f"/>
<path d="M290 400 C288 384 298 376 314 376 L800 380 C816 380 822 392 818 404 C814 416 800 420 790 420 L310 420 C298 420 292 412 290 400Z" fill="#b84a48"/>
<path d="M300 420 L790 420 L770 546 L280 546Z" fill="#a44240"/>
<path d="M340 420 L410 420 L380 546 L312 546Z" fill="#b84a48"/>
<path d="M660 420 L780 420 L762 546 L620 546Z" fill="#b04644"/>
<!-- standing man -->
<path d="M160 300 L262 300 L262 420 L268 524 L236 526 L212 380 L196 526 L164 526 L156 420Z" fill="#3f8fb8"/>
<path d="M138 180 C144 160 170 150 186 148 L232 148 C254 152 268 164 270 186 L268 250 L248 300 L250 330 L160 330 L160 296 L136 250Z" fill="#3f8fb8"/>
<path d="M192 148 L228 148 L214 214Z" fill="#fff"/>
<path d="M206 166 L214 166 L218 200 L210 214 L203 200Z" fill="#2a2a3e"/>
<path d="M136 250 L160 300 L200 322 L190 338 L150 318Z" fill="#367fa6"/>
<path d="M268 250 L252 300 L224 322 L234 338 L262 318Z" fill="#367fa6"/>
<polygon points="176,318 262,326 250,380 166,364" fill="#eef0f4" stroke="#b8bcc8" stroke-width="3"/>
<path d="M196 312 C206 306 230 308 238 316 L232 334 L204 334Z" fill="#e8a27c"/>
<path d="M164 524 L198 524 L198 544 L162 544Z" fill="#4a3a3c"/><path d="M236 524 L268 522 L294 536 L294 544 L236 544Z" fill="#4a3a3c"/>
<!-- head -->
<path d="M196 136 L230 136 L228 156 L200 156Z" fill="#e8a27c"/>
<path d="M188 104 C190 90 236 86 242 104 C246 124 238 146 216 148 C196 148 186 128 188 104Z" fill="#e8a27c"/>
<path d="M188 120 C192 140 204 150 216 150 C230 150 240 138 242 122 C234 132 222 134 214 132 C204 132 194 128 188 120Z" fill="#1f2f5a"/>
<path d="M184 112 C180 92 196 80 214 84 C224 76 244 82 248 98 C250 106 246 112 242 112 C238 102 226 98 212 100 C200 100 190 104 188 116Z" fill="#1f3a7a"/>
<!-- sitting man 1 -->
<path d="M400 400 C404 384 430 378 470 378 L556 384 L548 420 L510 430 L498 506 L440 506 L446 430 L420 436 L404 500 L400 436Z" fill="#2b3050"/>
<path d="M404 430 L446 428 L440 506 L404 506Z" fill="#2b3050"/>
<path d="M376 536 L408 512 L440 512 L440 544 L376 544Z" fill="#4c4c55"/><path d="M452 536 L470 512 L498 512 L496 544 L452 544Z" fill="#3a3a44"/>
<path d="M470 276 C490 262 540 260 566 270 C580 280 582 300 578 330 L560 390 L468 384 L462 330Z" fill="#4aa98d"/>
<path d="M366 346 C380 338 400 338 420 340 L520 328 L544 340 L530 356 L430 360 L400 358 C384 358 370 356 366 346Z" fill="#e8a27c"/>
<path d="M462 300 C470 290 486 290 490 304 L486 336 L548 326 L552 350 L470 362 C460 350 458 320 462 300Z" fill="#4aa98d"/>
<path d="M510 244 L540 244 L538 268 L512 268Z" fill="#e8a27c"/>
<path d="M506 214 C510 200 548 200 552 218 C554 240 546 258 528 258 C512 258 504 236 506 214Z" fill="#e8a27c"/>
<path d="M506 222 C500 200 520 188 536 196 C552 196 566 212 560 232 C556 246 548 252 544 250 C548 236 546 222 538 216 C528 216 514 214 506 222Z" fill="#1f3a7a"/>
<!-- sitting man 2 -->
<path d="M548 400 C560 384 600 378 640 378 L672 384 L660 440 L620 452 L596 440 L584 456 L548 448Z" fill="#a8c8ea"/>
<path d="M552 446 L586 456 L570 530 L544 528Z" fill="#e8a27c"/><path d="M600 444 L640 450 L616 530 L592 526Z" fill="#e8a27c"/>
<path d="M512 536 L548 518 L574 524 L576 546 L512 546Z" fill="#f2ead8"/><path d="M584 536 L598 510 L624 514 L618 546 L584 546Z" fill="#f2ead8"/>
<path d="M660 266 C690 256 740 270 760 290 C770 310 766 340 760 360 L740 386 L636 384 C640 340 650 300 660 266Z" fill="#f9b84a"/>
<path d="M736 330 L766 340 C760 372 730 390 690 398 L660 408 L652 384 L700 366 C720 356 732 344 736 330Z" fill="#e8a27c"/>
<path d="M632 236 C640 224 680 224 712 232 L716 248 L668 250 L680 290 L660 300 C648 280 636 256 632 236Z" fill="#e8a27c"/>
<path d="M700 258 L730 262 L726 284 L700 280Z" fill="#e8a27c"/>
<path d="M700 226 C710 214 744 218 748 236 C750 256 738 272 722 272 C706 270 696 250 700 226Z" fill="#e8a27c"/>
<path d="M704 228 C706 210 730 204 744 214 C756 226 754 248 746 262 C742 250 740 238 730 232 C720 230 712 230 704 228Z" fill="#1f3a7a"/>
<path d="M690 254 C696 262 706 264 712 262 L710 270 C700 272 692 266 688 260Z" fill="#1f3a7a"/>
</g>
<g id="p3" transform="translate(380,1375) scale(0.15556)">
<defs><pattern id="plaid" width="14" height="12" patternUnits="userSpaceOnUse"><rect width="14" height="12" fill="#d9266e"/><rect y="7" width="14" height="4" fill="#7a1240"/><rect x="10" width="3" height="12" fill="#b01a58" opacity="0.6"/></pattern></defs>
<!-- woman legs -->
<path d="M222 470 L318 470 L306 560 L300 606 L262 606 L262 560 L254 606 L206 600 Z" fill="#f9c9bd"/>
<path d="M196 596 L232 612 L262 604 L296 606 L356 644 L300 646 L262 636 L232 644 L186 636Z" fill="#1c2a4a"/>
<!-- bag -->
<path d="M122 396 L134 384 L214 398 L214 472 L128 458Z" fill="#1c2a4a"/>
<path d="M128 396 L136 436" stroke="#f0d79a" stroke-width="5"/>
<!-- skirt -->
<path d="M222 326 L322 336 L326 480 L216 486Z" fill="url(#plaid)"/>
<!-- blouse -->
<path d="M238 206 C254 196 290 194 302 206 C316 230 320 280 324 306 L394 318 L398 350 L320 352 L222 336 L214 372 L182 366 C186 300 206 236 238 206Z" fill="#d9ecfb"/>
<circle cx="196" cy="382" r="13" fill="#f7cdbd"/>
<!-- hands -->
<path d="M394 322 C410 312 436 312 448 326 C452 340 444 354 428 358 C412 358 400 352 396 346Z" fill="#f2a98e"/>
<!-- woman head -->
<path d="M262 180 L290 180 L290 206 L262 206Z" fill="#f7cdbd"/>
<path d="M256 132 C262 112 294 114 296 134 C298 160 292 184 276 186 C260 184 254 158 256 132Z" fill="#f7cdbd"/>
<path d="M232 140 C228 112 252 98 276 104 C290 104 300 112 298 124 C284 122 270 126 266 140 C262 160 270 180 276 196 C262 208 240 206 232 196 C236 180 234 160 232 140Z" fill="#111"/>
<path d="M274 136 L298 136" stroke="#7a3030" stroke-width="3"/><circle cx="288" cy="140" r="7" fill="none" stroke="#7a3030" stroke-width="2.500"/>
<path d="M232 172 L244 172" stroke="#e8b23a" stroke-width="4"/>
<!-- man trousers -->
<path d="M532 376 L668 376 L694 606 L630 610 L598 440 L574 610 L504 606Z" fill="#1b2d55"/>
<path d="M498 606 L566 606 L564 646 L488 646 C488 630 492 616 498 606Z" fill="#c08a5a"/><path d="M628 608 L690 606 C698 620 702 634 700 646 L632 646Z" fill="#c08a5a"/>
<rect x="488" y="640" width="78" height="7" fill="#1c1c28"/><rect x="630" y="640" width="72" height="7" fill="#1c1c28"/>
<!-- jacket -->
<path d="M556 190 C580 178 640 178 664 192 C690 220 704 320 708 388 L672 392 L668 384 L530 384 C534 350 532 330 530 322 L456 346 L448 310 L520 280 C528 240 540 206 556 190Z" fill="#1b2d55"/>
<path d="M578 184 L626 184 L612 330 L590 330Z" fill="#cfe6fa"/>
<path d="M592 194 L606 194 L612 300 L598 318 L586 300Z" fill="#d9266e"/>
<rect x="580" y="322" width="22" height="14" fill="#b06a3a"/>
<circle cx="690" cy="402" r="13" fill="#f7cdbd"/>
<!-- briefcase -->
<path d="M676 436 C680 410 716 408 722 434" fill="none" stroke="#8a5a34" stroke-width="7"/>
<rect x="650" y="436" width="114" height="86" rx="8" fill="#c8906a"/>
<path d="M650 444 L706 472 L764 444" fill="none" stroke="#a87450" stroke-width="4"/>
<rect x="700" y="462" width="12" height="18" fill="#f0d07a"/>
<!-- man head -->
<path d="M584 160 L618 160 L618 190 L584 190Z" fill="#f7cdbd"/>
<path d="M572 116 C578 96 620 96 624 120 C626 146 618 168 598 170 C580 168 570 142 572 116Z" fill="#f7cdbd"/>
<path d="M562 112 C560 86 592 72 616 80 C636 84 646 104 642 124 C640 144 630 158 620 160 C624 140 620 122 610 112 C596 108 580 110 572 120 C566 120 562 118 562 112Z" fill="#e0985a"/>
<path d="M578 122 L596 126" stroke="#6a3a20" stroke-width="3"/>
</g>
<g id="p4" transform="translate(540,1375) scale(0.15556)">
<defs>
<linearGradient id="p4sw" x1="0" y1="0" x2="0" y2="1"><stop offset="0" stop-color="#94a02c"/><stop offset="0.6" stop-color="#7d9436"/><stop offset="1" stop-color="#4f8a5a"/></linearGradient>
<linearGradient id="p4pt" x1="0" y1="0" x2="0" y2="1"><stop offset="0" stop-color="#3f9aa6"/><stop offset="1" stop-color="#2a6a9c"/></linearGradient>
<linearGradient id="p4po" x1="0" y1="0" x2="0" y2="1"><stop offset="0" stop-color="#fcc42c"/><stop offset="1" stop-color="#f7923c"/></linearGradient>
</defs>
<rect x="426" y="634" width="156" height="8" rx="4" fill="#dbeaf2"/>
<!-- woman pants -->
<path d="M232 372 L318 380 C318 440 300 500 288 560 L262 636 L236 636 C240 600 232 560 228 500 C224 450 226 410 232 372Z" fill="url(#p4pt)"/>
<path d="M236 630 L266 630 L262 646 L234 644Z" fill="#c0404a"/>
<!-- sweater -->
<path d="M232 218 C250 208 290 208 304 220 C320 250 324 300 318 340 C322 360 322 384 316 398 C290 404 250 400 230 376 C240 340 236 300 226 270 C218 250 222 228 232 218Z" fill="url(#p4sw)"/>
<!-- book -->
<path d="M250 252 L300 238 L322 320 L268 334Z" fill="#28588a"/>
<path d="M226 262 C240 280 270 300 300 298 L326 284 L330 304 L300 318 C270 322 240 300 222 280Z" fill="#8a9a2e"/>
<path d="M320 262 C312 280 290 300 262 312 L258 330 C290 326 316 300 328 280Z" fill="#7d9436"/>
<!-- woman head -->
<path d="M250 190 L282 190 L282 216 L250 216Z" fill="#f3c6a8"/>
<path d="M232 130 C238 108 292 108 296 134 C298 164 288 192 266 194 C244 192 230 160 232 130Z" fill="#f3c6a8"/>
<path d="M214 130 C210 100 240 82 268 88 C292 90 304 110 300 130 C290 122 270 118 250 126 C240 134 236 150 238 170 C240 190 244 204 236 210 C216 204 208 180 212 160 C214 150 214 140 214 130Z" fill="#8e2a4e"/>
<path d="M296 140 C308 150 318 176 310 196 C302 204 292 200 290 192 C296 176 298 158 296 140Z" fill="#8e2a4e"/>
<circle cx="252" cy="150" r="4" fill="#2a4a8a"/><circle cx="282" cy="150" r="4" fill="#2a4a8a"/>
<path d="M256 176 C264 184 276 184 284 176" fill="#fff" stroke="#a03a3a" stroke-width="2"/>
<circle cx="232" cy="186" r="5" fill="#e8b23a"/>
<!-- man legs -->
<path d="M418 480 L452 486 L440 560 L436 634 L420 634 L420 560Z" fill="#f6c9a6"/>
<path d="M470 480 L498 470 L506 540 L534 632 L518 636 L486 560Z" fill="#f6c9a6"/>
<path d="M414 630 L440 630 L440 642 L412 642Z" fill="#8a4a3a"/><path d="M514 632 L540 628 L544 640 L516 644Z" fill="#8a4a3a"/>
<!-- shorts -->
<path d="M406 370 L496 370 L500 478 L462 492 L450 430 L446 492 L412 488Z" fill="#5a3226"/>
<rect x="430" y="372" width="26" height="8" fill="#c8c8c8"/>
<!-- bag -->
<path d="M506 440 C510 424 528 424 532 440" fill="none" stroke="#a08a6a" stroke-width="4"/>
<path d="M496 442 L546 440 L552 566 L498 572Z" fill="#c9b394"/>
<path d="M496 442 L510 444 L512 570 L498 572Z" fill="#b09a7c"/>
<!-- polo -->
<path d="M404 206 C420 190 446 182 460 182 L480 182 C500 184 520 194 530 212 L534 270 L510 276 L504 372 L408 372 L406 300 L400 260Z" fill="url(#p4po)"/>
<path d="M442 180 L482 180 L478 196 L462 222 L446 196Z" fill="#8a5a2a"/><path d="M452 184 L472 184 L462 214Z" fill="#f6c9a6"/>
<!-- arms -->
<path d="M510 272 L534 268 L536 380 L530 430 L518 430 L514 380Z" fill="#f6c9a6"/>
<path d="M402 262 L416 300 L380 322 L372 300Z" fill="#f6c9a6"/>
<!-- cup -->
<path d="M352 290 L374 290 L372 326 L356 326Z" fill="#c0283a"/><path d="M362 290 L370 264" stroke="#d05a6a" stroke-width="3"/>
<!-- man head -->
<path d="M446 150 L476 150 L476 186 L446 186Z" fill="#f6c9a6"/>
<path d="M424 96 C430 70 490 70 494 98 C496 130 484 160 460 162 C436 160 422 128 424 96Z" fill="#f6c9a6"/>
<path d="M418 100 C416 70 440 54 466 58 C488 58 500 76 498 100 C490 86 470 80 450 84 C436 86 428 94 426 110Z" fill="#9a6a3a"/>
<circle cx="444" cy="110" r="4" fill="#3a8ac8"/><circle cx="474" cy="110" r="4" fill="#3a8ac8"/>
<path d="M446 136 C454 146 468 146 476 136Z" fill="#fff" stroke="#c07a5a" stroke-width="2"/>
<!-- watermark -->
<rect x="180" y="560" width="242" height="108" fill="#8a8a8a" fill-opacity="0.38"/>
<text x="184" y="646" font-size="52" font-weight="bold" fill="#fff" fill-opacity="0.85" style="font-family:'Liberation Sans','Noto Sans CJK SC',sans-serif" textLength="122" lengthAdjust="spacingAndGlyphs">图虫</text>
</g>
<g id="p5" transform="translate(680,1375) scale(0.15556)">
<!-- shoes -->
<path d="M342 652 C360 630 400 604 430 592 L440 612 C420 630 400 648 392 654Z" fill="#c08a5a"/>
<path d="M418 652 C424 636 450 624 478 622 C496 630 508 642 510 654Z" fill="#c08a5a"/>
<path d="M430 600 L452 606 L440 626 L420 628Z" fill="#f9c9bd"/>
<!-- trousers -->
<path d="M392 296 L484 296 C498 360 498 460 490 596 L440 600 L428 440 C420 480 420 540 418 584 L372 596 C340 540 320 470 332 420 C346 370 372 330 392 296Z" fill="#1b2d55"/>
<g stroke="#4a6190" stroke-width="2" opacity="0.6"><path d="M366 380 l0 14 M352 430 l0 14 M380 460 l0 14 M360 520 l0 14 M400 350 l0 14 M400 520 l0 14 M450 360 l0 14 M466 430 l0 14 M452 500 l0 14 M470 560 l0 14 M384 570 l0 10"/></g>
<!-- hair back -->
<path d="M436 150 C460 170 480 200 484 250 L440 252 C436 220 436 180 436 150Z" fill="#111"/>
<!-- blouse -->
<path d="M372 196 C390 182 430 176 450 186 C470 196 486 220 498 250 L530 262 L520 292 L484 286 L484 298 L392 298 L388 286 C366 300 336 300 326 286 C314 260 314 230 320 206 L350 210 C350 236 354 256 360 262 C362 236 364 212 372 196Z" fill="#dceefb"/>
<rect x="392" y="280" width="80" height="20" rx="3" fill="#b07a4a"/><rect x="418" y="282" width="22" height="16" fill="none" stroke="#5a3a1a" stroke-width="3"/>
<!-- ponytail front -->
<path d="M444 170 C452 200 452 230 446 250 L476 254 C480 226 474 196 462 172Z" fill="#111"/>
<!-- notepad -->
<polygon points="498,228 566,198 602,232 498,272" fill="#fdf6e0" stroke="#e8b86a" stroke-width="4"/>
<circle cx="582" cy="210" r="10" fill="#1b2d55"/><circle cx="572" cy="202" r="8" fill="#f9d5c8"/>
<!-- raised hand & pen -->
<path d="M318 196 C314 180 322 164 336 158 L348 176 L350 208 L320 208Z" fill="#f9d5c8"/>
<path d="M316 194 L366 164" stroke="#e0287a" stroke-width="6" stroke-linecap="round"/>
<rect x="316" y="190" width="34" height="7" fill="#e0287a" transform="rotate(-8 333 193)"/>
<!-- head -->
<path d="M410 160 L436 160 L440 194 L414 196Z" fill="#f9d5c8"/>
<path d="M396 118 C400 98 440 98 444 122 C446 146 438 168 420 170 C402 168 392 144 396 118Z" fill="#f9d5c8"/>
<path d="M380 106 C380 86 404 80 418 88 C430 72 458 78 462 100 C468 120 462 140 448 150 C446 130 440 116 428 112 C414 116 398 116 388 114Z" fill="#111"/>
<path d="M402 128 L416 128" stroke="#111" stroke-width="4"/>
<!-- ribbon -->
<path d="M444 140 L466 128 L462 148 L476 176 L466 180 L452 156 L440 160Z" fill="#e0287a"/>
</g>
</svg>
</div>
</body>
</html>
